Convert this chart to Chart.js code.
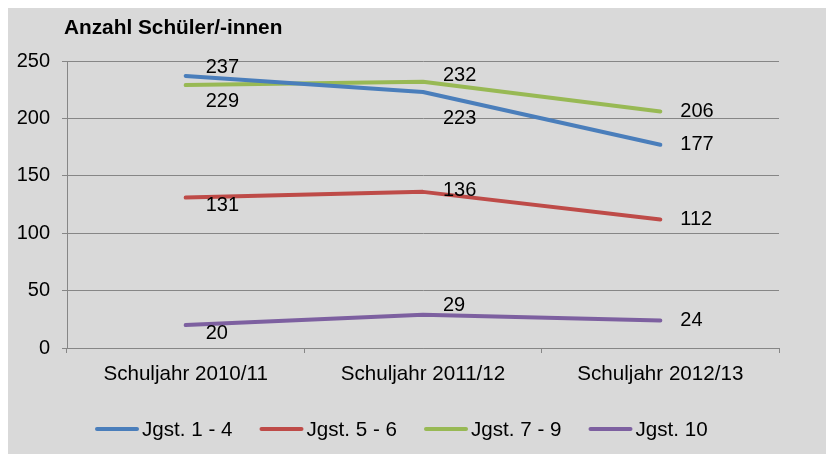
<!DOCTYPE html>
<html>
<head>
<meta charset="utf-8">
<script src="https://cdn.jsdelivr.net/npm/chart.js@4"></script>
<style>
  html, body { margin: 0; padding: 0; background: #fff; }
  #wrap { position: absolute; left: 8px; top: 8px; width: 818px; height: 446px; }
</style>
</head>
<body>
<div id="wrap"><canvas id="schuelerChart" width="818" height="446"></canvas></div>
<script>
const years = ['Schuljahr 2010/11', 'Schuljahr 2011/12', 'Schuljahr 2012/13'];
const seriesNames = ['Jgst. 1 - 4', 'Jgst. 5 - 6', 'Jgst. 7 - 9', 'Jgst. 10'];
const jgst1bis4 = [237, 223, 177];
const jgst5bis6 = [131, 136, 112];
const jgst7bis9 = [229, 232, 206];
const jgst10 = [20, 29, 24];
const yTicks = [0, 50, 100, 150, 200, 250];

const FONT = "'Liberation Sans', Arial, sans-serif";
const colors = ['#4a7ebb', '#be4b48', '#98b954', '#7d60a0'];

// vertical label shift per point (Excel put them above / below / beside)
const labelShift = [
  [-8, 26, 0],
  [8, -1, 0],
  [16, -6, 0],
  [8, -9, 0]
];

const bgPlugin = {
  id: 'bg',
  beforeDraw(chart) {
    const c = chart.ctx;
    c.save();
    c.fillStyle = '#d9d9d9';
    c.fillRect(0, 0, chart.width, chart.height);
    c.restore();
  }
};

const extrasPlugin = {
  id: 'extras',
  afterDatasetsDraw(chart) {
    const c = chart.ctx;
    c.save();
    c.fillStyle = '#000';
    c.font = '20px ' + FONT;
    c.textAlign = 'left';
    c.textBaseline = 'middle';
    chart.data.datasets.forEach((ds, i) => {
      chart.getDatasetMeta(i).data.forEach((pt, j) => {
        c.fillText(String(ds.data[j]), pt.x + 20, pt.y + labelShift[i][j]);
      });
    });
    // title
    c.font = 'bold 20.8px ' + FONT;
    c.fillText('Anzahl Schüler/-innen', 56, 20);
    // legend
    c.font = '20.6px ' + FONT;
    let x = 87;
    chart.data.datasets.forEach((ds, i) => {
      c.strokeStyle = ds.borderColor;
      c.lineWidth = 4;
      c.lineCap = 'round';
      c.beginPath();
      c.moveTo(x + 2, 421);
      c.lineTo(x + 42, 421);
      c.stroke();
      c.fillText(ds.label, x + 47, 422);
      x += 164.5;
    });
    c.restore();
  }
};

new Chart(document.getElementById('schuelerChart'), {
  type: 'line',
  data: {
    labels: years,
    datasets: [jgst1bis4, jgst5bis6, jgst7bis9, jgst10].map((d, i) => ({
      label: seriesNames[i],
      data: d,
      borderColor: colors[i],
      backgroundColor: colors[i],
      borderWidth: 4,
      borderCapStyle: 'round',
      borderJoinStyle: 'round',
      pointRadius: 0,
      tension: 0
    }))
  },
  options: {
    responsive: false,
    animation: false,
    layout: { padding: { top: 53, right: 47, left: 0, bottom: 0 } },
    plugins: {
      legend: { display: false },
      title: { display: false },
      tooltip: { enabled: false }
    },
    scales: {
      x: {
        offset: true,
        afterFit: s => { s.height = 106; },
        grid: { offset: true, drawOnChartArea: false, drawTicks: true, tickLength: 5, color: '#868686' },
        border: { color: '#868686', width: 1 },
        ticks: { color: '#000', padding: 9, font: { family: FONT, size: 20.6 } }
      },
      y: {
        min: 0,
        max: 250,
        afterFit: s => { s.width = 59; },
        afterBuildTicks: s => { s.ticks = yTicks.map(v => ({ value: v })); },
        grid: { color: '#868686', lineWidth: 1, tickLength: 5 },
        border: { color: '#868686', width: 1 },
        ticks: { color: '#000', padding: 12, font: { family: FONT, size: 20 } }
      }
    }
  },
  plugins: [bgPlugin, extrasPlugin]
});
</script>
</body>
</html>
